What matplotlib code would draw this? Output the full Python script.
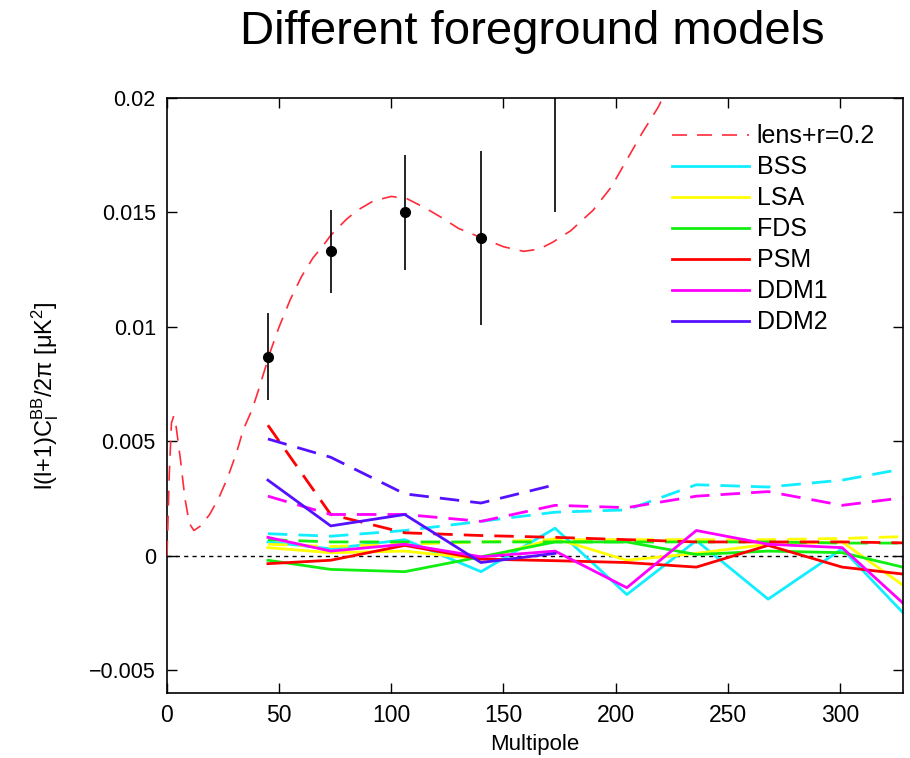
import matplotlib
matplotlib.use("Agg")
import matplotlib.pyplot as plt

plt.rcParams['font.family'] = ['Liberation Sans', 'DejaVu Sans']
plt.rcParams['mathtext.fontset'] = 'custom'
plt.rcParams['mathtext.rm'] = 'Liberation Sans'
plt.rcParams['mathtext.it'] = 'Liberation Sans'

# lensing + r=0.2 theory curve
model_ell = [0, 1, 2, 3, 4, 6, 8, 10, 12, 15, 19, 23, 27, 31, 34, 38, 41, 46, 50, 55,
             60, 65, 70, 73, 80, 85, 92, 100, 107, 115, 122, 130, 140, 150, 159, 166,
             172, 180, 190, 198, 205, 212, 219, 226]
model_val = [0, 0.0035, 0.0058, 0.0061, 0.0057, 0.0042, 0.0025, 0.0014, 0.0011, 0.0013,
             0.0018, 0.0025, 0.0034, 0.0045, 0.0055, 0.0064, 0.0073, 0.0089, 0.0100, 0.0112,
             0.0122, 0.0130, 0.0136, 0.0140, 0.0147, 0.0151, 0.0155, 0.0157, 0.0156, 0.0152,
             0.0148, 0.0143, 0.0139, 0.0135, 0.0133, 0.0134, 0.0137, 0.0142, 0.0151, 0.0161,
             0.0173, 0.0185, 0.0196, 0.0210]

# BICEP2 bandpowers
bp_ell = [45, 73, 106, 140, 173]
bp_val = [0.0087, 0.0133, 0.0150, 0.0139, 0.0230]
bp_err = [0.0019, 0.0018, 0.0025, 0.0038, 0.0080]

# foreground model predictions per bin (solid = cross, dashed = auto)
bins = [45, 73, 106, 140, 173, 205, 236, 268, 301, 334]
bss = [0.0006, 0.0003, 0.0007, -0.0007, 0.0012, -0.0017, 0.00066, -0.0019, 0.0003, -0.0031]
bss_d = [0.00096, 0.00085, 0.0011, 0.0015, 0.0019, 0.0020, 0.0031, 0.0030, 0.0033, 0.0039]
lsa = [0.00035, 0.00013, 0.0002, -0.00015, 0.00075, -0.0002, 0.0001, 0.0005, 0.0006, -0.0017]
lsa_d = [0.0005, 0.0004, 0.0005, 0.0006, 0.0007, 0.0007, 0.0007, 0.0007, 0.00075, 0.00085]
fds = [-0.0002, -0.0006, -0.0007, -0.00005, 0.0006, 0.0006, 0.00005, 0.0002, 0.00013, -0.00064]
fds_d = [0.0007, 0.0006, 0.0006, 0.0006, 0.0006, 0.0006, 0.0006, 0.0006, 0.00055, 0.00055]
psm = [-0.00035, -0.0002, 0.00045, -0.00015, -0.00022, -0.0003, -0.0005, 0.00045, -0.0005, -0.00087]
psm_d = [0.0057, 0.0018, 0.001, 0.00088, 0.0008, 0.0007, 0.0006, 0.0006, 0.0006, 0.00055]
ddm1 = [0.0008, 0.0002, 0.0005, -0.00005, 0.0002, -0.0014, 0.0011, 0.0005, 0.00035, -0.0026]
ddm1_d = [0.0026, 0.0018, 0.0018, 0.0015, 0.0022, 0.0021, 0.0026, 0.0028, 0.0022, 0.0026]
ddm2 = [0.0033, 0.0013, 0.0018, -0.0003, 0.0001]
ddm2_d = [0.0051, 0.0043, 0.0027, 0.0023, 0.0031]

fig = plt.figure(figsize=(9.1, 7.58), dpi=100)
ax = fig.add_axes([0.1835, 0.0858, 0.8085, 0.7849])

ax.axhline(0, color='black', lw=1, linestyle=(0, (3, 3)), zorder=1)

ax.plot(model_ell, model_val, color='#ff2a3a', lw=1.2, dashes=(9, 6), label='lens+r=0.2', zorder=4)

models = [
    ('BSS', '#11eeff', bss, bss_d),
    ('LSA', '#ffff00', lsa, lsa_d),
    ('FDS', '#11ee11', fds, fds_d),
    ('PSM', '#ff0000', psm, psm_d),
    ('DDM1', '#ff00ff', ddm1, ddm1_d),
    ('DDM2', '#5511ff', ddm2, ddm2_d),
]
for name, col, solid, dashed in models:
    n = len(solid)
    ax.plot(bins[:n], solid, color=col, lw=2, label=name, zorder=2)
    ax.plot(bins[:n], dashed, color=col, lw=2, dashes=(7, 4), zorder=2)

ax.errorbar(bp_ell, bp_val, yerr=bp_err, fmt='o', color='black', ms=7, elinewidth=1.2,
            capsize=0, zorder=5)

ax.set_xlim(0, 328)
ax.set_ylim(-0.006, 0.02)
ax.set_xticks([0, 50, 100, 150, 200, 250, 300])
ax.set_yticks([-0.005, 0, 0.005, 0.01, 0.015, 0.02])
ax.set_yticklabels(['\u22120.005', '0', '0.005', '0.01', '0.015', '0.02'])
ax.tick_params(direction='in', top=True, right=True, length=7, width=1, labelsize=15.5, pad=8)
ax.tick_params(axis='x', labelsize=16.5)
for s in ax.spines.values():
    s.set_linewidth(1.2)

ax.set_xlabel('Multipole', fontsize=16, labelpad=5)
ax.set_ylabel('l(l+1)C$_\\mathrm{l}^\\mathrm{BB}$/2π [μK$^2$]', fontsize=17, labelpad=20)

fig.text(0.585, 0.958, 'Different foreground models', ha='center', va='center', fontsize=34)

ax.legend(loc='upper right', frameon=False, fontsize=18, handlelength=3.1, labelspacing=0.28,
          handletextpad=0.3, borderaxespad=0.3, bbox_to_anchor=(0.986, 0.985))

fig.savefig('out.png', dpi=100)
